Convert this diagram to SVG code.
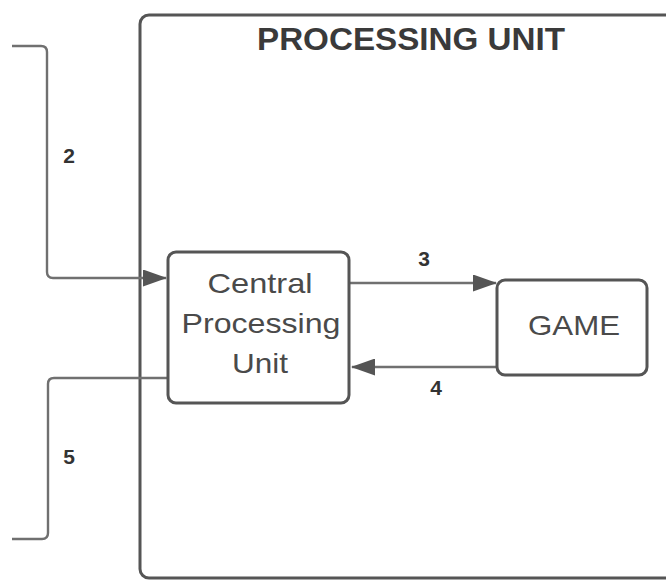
<svg xmlns="http://www.w3.org/2000/svg" width="666" height="581" viewBox="0 0 666 581">
  <style>
    .box { fill: #ffffff; stroke: #555555; stroke-width: 3; }
    .edge { fill: none; stroke: #707070; stroke-width: 2.4; }
    .title { font-family: "Liberation Sans", Arial, sans-serif; font-weight: bold; font-size: 32px; fill: #3a3a3a; text-anchor: middle; }
    .label { font-family: "Liberation Sans", Arial, sans-serif; font-size: 28px; fill: #4a4a4a; text-anchor: middle; }
    .num { font-family: "Liberation Sans", Arial, sans-serif; font-weight: bold; font-size: 21px; fill: #333333; text-anchor: middle; }
  </style>
  <defs>
    <marker id="arrow" viewBox="0 0 24 17" refX="23" refY="8.5" markerWidth="24" markerHeight="17" markerUnits="userSpaceOnUse" orient="auto">
      <path d="M0,0 L24,8.5 L0,17 Z" fill="#555555"/>
    </marker>
  </defs>

  <rect width="666" height="581" fill="#ffffff"/>

  <g id="processing-unit">
    <rect class="box" x="140" y="15" width="560" height="563" rx="9"/>
    <text class="title" x="411" y="50" textLength="308" lengthAdjust="spacingAndGlyphs">PROCESSING UNIT</text>
  </g>

  <g id="connectors">
    <path class="edge" d="M12,46 H41 Q47,46 47,52 V272 Q47,278 53,278 H166" marker-end="url(#arrow)"/>
    <path class="edge" d="M350,283 H496" marker-end="url(#arrow)"/>
    <path class="edge" d="M497,367 H352" marker-end="url(#arrow)"/>
    <path class="edge" d="M167,378 H54 Q48,378 48,384 V533 Q48,539 42,539 H12"/>
    <text class="num" x="69" y="163">2</text>
    <text class="num" x="424" y="266">3</text>
    <text class="num" x="436" y="395">4</text>
    <text class="num" x="69" y="464">5</text>
  </g>

  <g id="cpu">
    <rect class="box" x="168" y="252" width="181" height="151" rx="8"/>
    <text class="label" x="260" y="293" textLength="105" lengthAdjust="spacingAndGlyphs">Central</text>
    <text class="label" x="261" y="333" textLength="159" lengthAdjust="spacingAndGlyphs">Processing</text>
    <text class="label" x="260" y="373" textLength="56" lengthAdjust="spacingAndGlyphs">Unit</text>
  </g>

  <g id="game">
    <rect class="box" x="497" y="280" width="150" height="95" rx="8"/>
    <text class="label" x="574" y="335" font-size="30" textLength="92" lengthAdjust="spacingAndGlyphs">GAME</text>
  </g>
</svg>
